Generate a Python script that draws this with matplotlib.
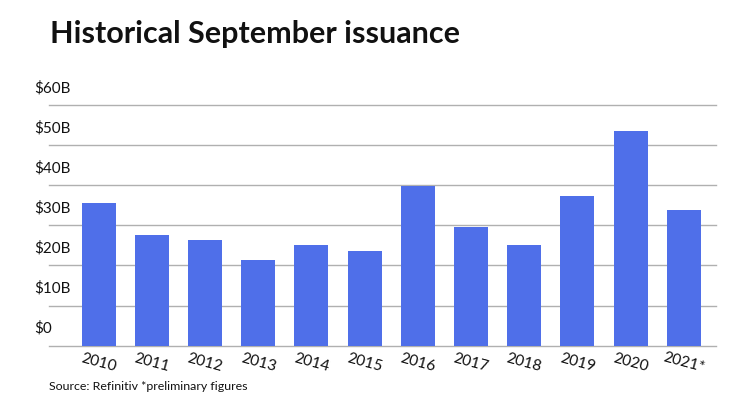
import matplotlib
matplotlib.use("Agg")
import matplotlib.pyplot as plt
import matplotlib.transforms as mtransforms

# Data ($ billions)
years = ["2010", "2011", "2012", "2013", "2014", "2015",
         "2016", "2017", "2018", "2019", "2020", "2021*"]
issuance = [35.6, 27.5, 26.3, 21.3, 25.1, 23.6,
            39.7, 29.7, 25.2, 37.4, 53.6, 33.8]
y_ticks = [0, 10, 20, 30, 40, 50, 60]
y_labels = ["$0", "$10B", "$20B", "$30B", "$40B", "$50B", "$60B"]

plt.rcParams['font.family'] = ['Lato', 'DejaVu Sans']

fig = plt.figure(figsize=(7.4, 4.16), dpi=100)
ax = fig.add_axes([49 / 740, (416 - 345.7) / 416, 667 / 740, (345.7 - 105) / 416])

x = list(range(len(years)))
ax.bar(x, issuance, width=0.64, color="#4f6fe9", zorder=3)

# Horizontal grid lines
for v in y_ticks:
    ax.axhline(v, color="#b0b0b0", linewidth=1.0, zorder=1, clip_on=False)

ax.set_xlim(-0.934, 11.607)
ax.set_ylim(0, 60)
for s in ax.spines.values():
    s.set_visible(False)
ax.set_xticks([])
ax.set_yticks([])

# Y labels sit above their grid line
trans = mtransforms.offset_copy(ax.get_yaxis_transform(), fig=fig, x=0, y=10, units='dots')
for v, lab in zip(y_ticks, y_labels):
    ax.text(-15 / 667, v, lab, transform=trans, ha='left', va='bottom',
            fontsize=11, color="#111111")

# Tilted year labels
for xi, lab in zip(x, years):
    ax.text(xi, -4.3, lab, ha='center', va='center', rotation=-15,
            rotation_mode='anchor', fontsize=11.2, color="#111111", clip_on=False)

fig.text(50 / 740, 1 - 34 / 416, "Historical September issuance",
         fontsize=22, fontweight='bold', ha='left', va='center', color="#111111")
fig.text(49 / 740, 1 - 387 / 416, "Source: Refinitiv *preliminary figures",
         fontsize=8.9, ha='left', va='center', color="#111111")

fig.savefig("out.png", dpi=100)
